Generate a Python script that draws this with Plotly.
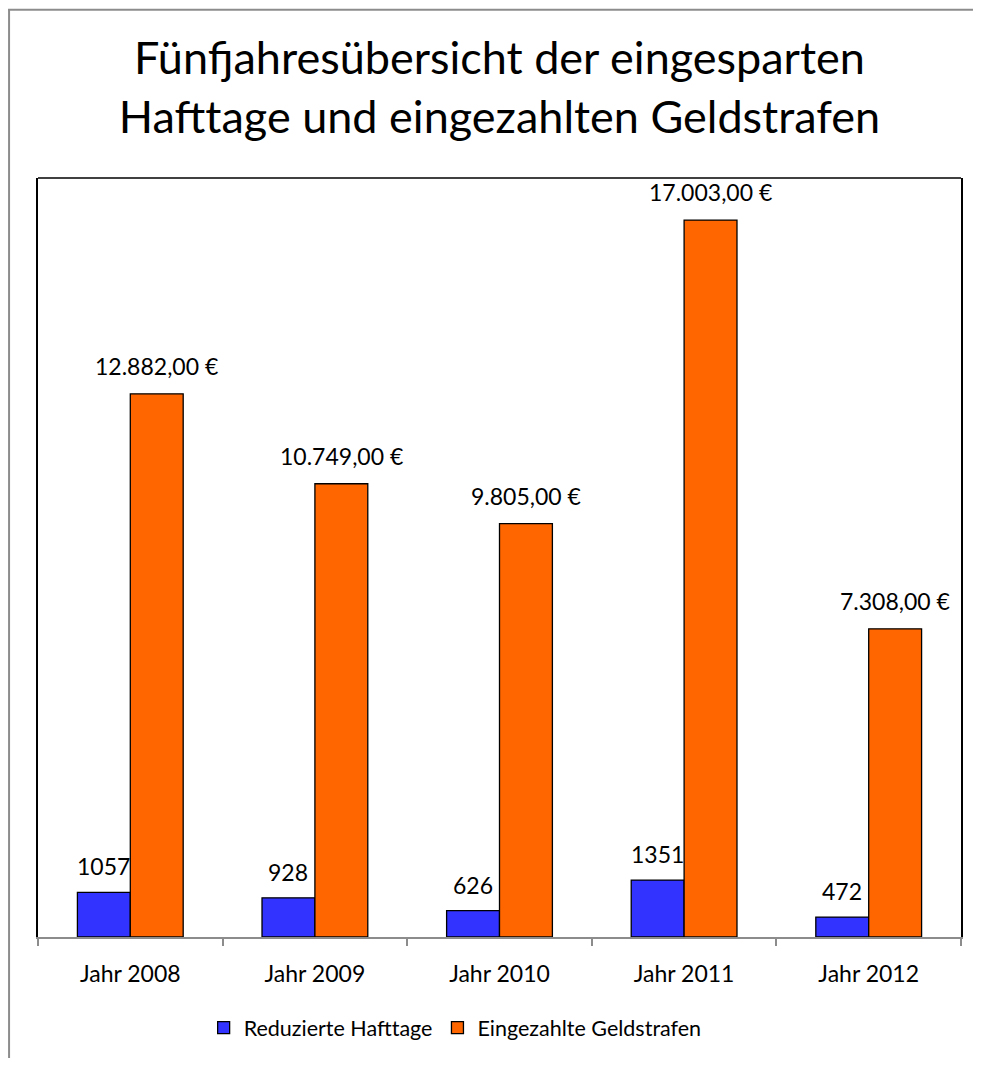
import plotly.graph_objects as go

categories = ["Jahr 2008", "Jahr 2009", "Jahr 2010", "Jahr 2011", "Jahr 2012"]
hafttage = [1057, 928, 626, 1351, 472]
geldstrafen = [12882, 10749, 9805, 17003, 7308]
hafttage_labels = ["1057", "928", "626", "1351", "472"]
geldstrafen_labels = ["12.882,00 €", "10.749,00 €", "9.805,00 €", "17.003,00 €", "7.308,00 €"]

FONT = "Lato"
OFF = 8  # page body margin

fig = go.Figure()
fig.add_trace(go.Bar(
    x=categories, y=hafttage, name="Reduzierte Hafttage",
    marker=dict(color="#3333FF", line=dict(color="black", width=1.3)),
))
fig.add_trace(go.Bar(
    x=categories, y=geldstrafen, name="Eingezahlte Geldstrafen",
    marker=dict(color="#FF6600", line=dict(color="black", width=1.3)),
))

annotations = []
for c, v, t in zip(categories, hafttage, hafttage_labels):
    annotations.append(dict(x=c, y=v, text=t, showarrow=False, xshift=-26.5,
                            yshift=26, font=dict(family=FONT, size=23, color="black")))
for c, v, t in zip(categories, geldstrafen, geldstrafen_labels):
    annotations.append(dict(x=c, y=v, text=t, showarrow=False, xshift=26.5,
                            yshift=28, font=dict(family=FONT, size=23, color="black")))

W, H = 981 - 2 * OFF, 1066 - 2 * OFF
L, T = 38 - OFF, 178 - OFF
R = W - (963 - OFF)
B = H - (940 - OFF)
pw, ph = W - L - R, H - T - B

def px_x(p):
    return (p - OFF - L) / pw

def px_y(p):
    return (H - B - (p - OFF)) / ph

shapes = [
    dict(type="line", xref="paper", yref="paper", x0=0, x1=1, y0=1, y1=1,
         line=dict(color="black", width=1.5)),
    dict(type="line", xref="paper", yref="paper", x0=px_x(9), x1=px_x(9),
         y0=px_y(8.5), y1=px_y(1080), line=dict(color="#8c8c8c", width=2)),
    dict(type="line", xref="paper", yref="paper", x0=px_x(8), x1=px_x(1000),
         y0=px_y(9), y1=px_y(9), line=dict(color="#8c8c8c", width=2)),
]

fig.update_layout(
    width=W, height=H,
    margin=dict(l=L, r=R, t=T, b=B),
    paper_bgcolor="white", plot_bgcolor="white",
    barmode="group", bargap=0.427, bargroupgap=0,
    title=dict(
        text="Fünfjahresübersicht der eingesparten<br>Hafttage und eingezahlten Geldstrafen",
        xref="paper", x=0.5, xanchor="center", y=1 - 66 / H, yanchor="middle",
        font=dict(family=FONT, size=45, color="black"),
    ),
    font=dict(family=FONT, size=23, color="black"),
    xaxis=dict(
        showline=True, linecolor="#8c8c8c", linewidth=2,
        ticks="outside", tickson="boundaries", ticklen=7, tickcolor="#8c8c8c", tickwidth=1.5,
        tickfont=dict(family=FONT, size=23, color="black"),
        ticklabelstandoff=15,
        showgrid=False,
    ),
    yaxis=dict(
        range=[0, 18000], showline=True, linecolor="black", linewidth=1.5, mirror=True,
        showticklabels=False, showgrid=False, zeroline=False, ticks="",
    ),
    legend=dict(
        orientation="h", x=px_x(204), xanchor="left", y=px_y(1031), yanchor="middle",
        font=dict(family=FONT, size=21.5, color="black"), itemwidth=30,
        traceorder="normal",
    ),
    annotations=annotations,
    shapes=shapes,
)

fig.write_html("out.html")
